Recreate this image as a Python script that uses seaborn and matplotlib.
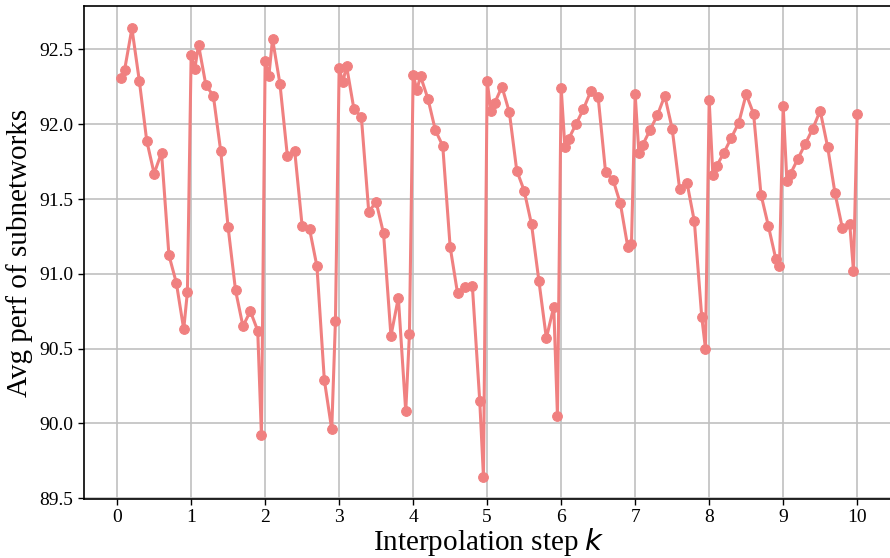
import matplotlib
matplotlib.use("Agg")
import matplotlib.pyplot as plt
import seaborn as sns

# interpolation steps (x) and average performance of subnetworks (y)
steps = [0.05, 0.1, 0.2, 0.3, 0.4, 0.5, 0.6, 0.7, 0.8, 0.9, 0.95,
         1.0, 1.05, 1.1, 1.2, 1.3, 1.4, 1.5, 1.6, 1.7, 1.8, 1.9, 1.95,
         2.0, 2.05, 2.1, 2.2, 2.3, 2.4, 2.5, 2.6, 2.7, 2.8, 2.9, 2.95,
         3.0, 3.05, 3.1, 3.2, 3.3, 3.4, 3.5, 3.6, 3.7, 3.8, 3.9, 3.95,
         4.0, 4.05, 4.1, 4.2, 4.3, 4.4, 4.5, 4.6, 4.7, 4.8, 4.9, 4.95,
         5.0, 5.05, 5.1, 5.2, 5.3, 5.4, 5.5, 5.6, 5.7, 5.8, 5.9, 5.95,
         6.0, 6.05, 6.1, 6.2, 6.3, 6.4, 6.5, 6.6, 6.7, 6.8, 6.9, 6.95,
         7.0, 7.05, 7.1, 7.2, 7.3, 7.4, 7.5, 7.6, 7.7, 7.8, 7.9, 7.95,
         8.0, 8.05, 8.1, 8.2, 8.3, 8.4, 8.5, 8.6, 8.7, 8.8, 8.9, 8.95,
         9.0, 9.05, 9.1, 9.2, 9.3, 9.4, 9.5, 9.6, 9.7, 9.8, 9.9, 9.95,
         10.0]

perf = [92.31, 92.36, 92.64, 92.29, 91.89, 91.67, 91.81, 91.125, 90.94, 90.63, 90.88,
        92.46, 92.37, 92.53, 92.26, 92.19, 91.82, 91.31, 90.89, 90.65, 90.75, 90.62, 89.92,
        92.42, 92.32, 92.57, 92.27, 91.79, 91.82, 91.32, 91.30, 91.05, 90.29, 89.96, 90.685,
        92.375, 92.28, 92.39, 92.10, 92.05, 91.415, 91.48, 91.27, 90.585, 90.84, 90.08, 90.60,
        92.33, 92.23, 92.32, 92.17, 91.96, 91.855, 91.18, 90.87, 90.91, 90.92, 90.15, 89.645,
        92.29, 92.09, 92.14, 92.25, 92.08, 91.69, 91.556, 91.33, 90.95, 90.57, 90.78, 90.05,
        92.245, 91.85, 91.90, 92.00, 92.10, 92.22, 92.18, 91.68, 91.63, 91.47, 91.18, 91.20,
        92.20, 91.81, 91.86, 91.96, 92.06, 92.19, 91.97, 91.57, 91.61, 91.35, 90.71, 90.50,
        92.16, 91.66, 91.72, 91.81, 91.91, 92.01, 92.20, 92.07, 91.53, 91.32, 91.10, 91.05,
        92.12, 91.62, 91.67, 91.77, 91.87, 91.97, 92.09, 91.85, 91.54, 91.305, 91.33, 91.02,
        92.07]

xticks = list(range(11))
yticks = [89.5, 90.0, 90.5, 91.0, 91.5, 92.0, 92.5]

sns.set_style("ticks", {"axes.grid": True, "grid.color": "#c0c0c0",
                        "axes.edgecolor": "black", "text.color": "black",
                        "axes.labelcolor": "black", "xtick.color": "black",
                        "ytick.color": "black"})
plt.rcParams['font.family'] = ['Liberation Serif', 'DejaVu Serif']
plt.rcParams['mathtext.fontset'] = 'dejavusans'

fig = plt.figure(figsize=(8.9, 5.58), dpi=100)
ax = fig.add_axes([84/890, 1-499/558, (894-84)/890, (499-6)/558])

sns.lineplot(x=steps, y=perf, ax=ax, color='lightcoral', marker='o',
             markersize=7, markeredgecolor='lightcoral', linewidth=2.2)

ax.set_xlim(-0.4475, 10.4975)
ax.set_ylim(89.495, 92.79)
ax.set_xticks(xticks)
ax.set_yticks(yticks)
ax.set_yticklabels([f"{v:.1f}" for v in yticks])
ax.tick_params(axis='both', labelsize=14, length=4, width=1, colors='black')
ax.grid(True, color='#c0c0c0', linewidth=1.2)
ax.set_xlabel("Interpolation step $k$", fontsize=21, labelpad=0, color='black')
ax.set_ylabel("Avg perf of subnetworks", fontsize=21, labelpad=5, color='black')
for s in ax.spines.values():
    s.set_linewidth(1.2)

fig.savefig("out.png", dpi=100)
